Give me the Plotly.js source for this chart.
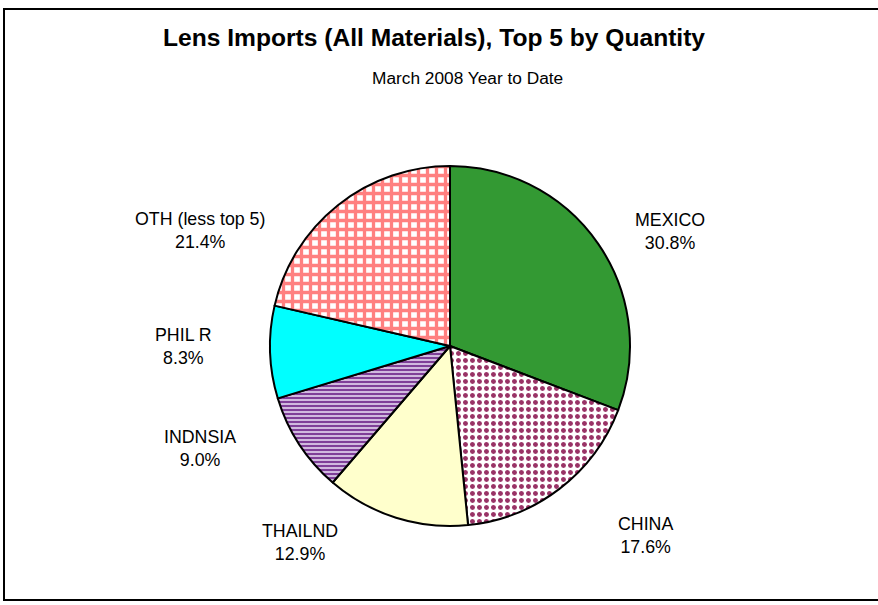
<!DOCTYPE html>
<html>
<head>
<meta charset="utf-8">
<script src="https://cdn.plot.ly/plotly-3.0.1.min.js"></script>
<style>
  body { margin: 0; background: #fff; }
  #chart { width: 878px; height: 605px; }
</style>
</head>
<body>
<div id="chart"></div>
<script>
// data
const countries = ["MEXICO", "CHINA", "THAILND", "INDNSIA", "PHIL R", "OTH (less top 5)"];
const shares = [30.8, 17.6, 12.9, 9.0, 8.3, 21.4];
const sliceColors = ["#339933", "#993366", "#ffffcc", "#7f3f98", "#00ffff", "#ff8080"];
const slicePatterns = ["", ".", "", "-", "", "+"];

// where Excel put each label (pixels in the 878x605 frame)
const labelPos = [[670, 231], [645, 535], [300, 542], [200, 448], [183, 346], [200, 230]];

const W = 878, H = 605;
const cx = 450, cy = 346, rad = 180;
const fontFam = 'Liberation Sans, Arial, sans-serif';

let pieTrace = {
  type: 'pie',
  labels: countries,
  values: shares,
  sort: false,
  direction: 'clockwise',
  rotation: 0,
  textinfo: 'none',
  hoverinfo: 'label+percent',
  showlegend: false,
  domain: {
    x: [(cx - rad) / W, (cx + rad) / W],
    y: [1 - (cy + rad) / H, 1 - (cy - rad) / H]
  },
  marker: {
    colors: sliceColors.map((c, i) => slicePatterns[i] ? '#ffffff' : c),
    line: {color: '#000000', width: 2},
    pattern: {
      shape: slicePatterns,
      fgcolor: sliceColors,
      bgcolor: sliceColors.map((c, i) => slicePatterns[i] === '-' ? '#d9c6e6' : '#ffffff'),
      size: [6, 7, 6, 4, 6, 9],
      solidity: [0.3, 0.4, 0.3, 0.55, 0.3, 0.6],
      fillmode: 'replace'
    }
  }
};

let annots = countries.map(function(name, i) {
  return {
    xref: 'paper', yref: 'paper',
    x: labelPos[i][0] / W,
    y: 1 - labelPos[i][1] / H,
    text: name + '<br>' + shares[i].toFixed(1) + '%',
    showarrow: false,
    xanchor: 'center', yanchor: 'middle',
    align: 'center',
    font: {family: fontFam, size: 17.8, color: '#000'}
  };
});

annots.push({
  xref: 'paper', yref: 'paper',
  x: 434 / W, y: 1 - 38 / H,
  text: '<b>Lens Imports (All Materials), Top 5 by Quantity</b>',
  showarrow: false, xanchor: 'center', yanchor: 'middle',
  font: {family: fontFam, size: 24.6, color: '#000'}
});
annots.push({
  xref: 'paper', yref: 'paper',
  x: 467 / W, y: 1 - 78 / H,
  text: 'March 2008 Year to Date',
  showarrow: false, xanchor: 'center', yanchor: 'middle',
  font: {family: fontFam, size: 17.3, color: '#000'}
});

let layout = {
  width: W,
  height: H,
  margin: {l: 0, r: 0, t: 0, b: 0},
  paper_bgcolor: '#ffffff',
  annotations: annots,
  shapes: [{
    type: 'rect', xref: 'paper', yref: 'paper',
    x0: 4 / W, x1: 1.01, y0: 1 - 600 / H, y1: 1 - 9 / H,
    line: {color: '#000', width: 2}
  }]
};

Plotly.newPlot('chart', [pieTrace], layout, {displayModeBar: false});
</script>
</body>
</html>
